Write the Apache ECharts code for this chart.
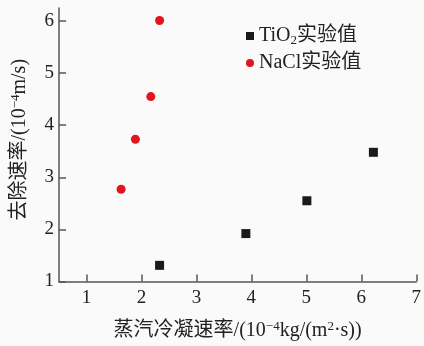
<!DOCTYPE html>
<html><head><meta charset="utf-8">
<script src="https://cdn.jsdelivr.net/npm/echarts@6/dist/echarts.min.js"></script>
<style>html,body{margin:0;padding:0;background:#fafafa;}#c{width:424px;height:346px;}</style>
</head><body><div id="c"></div>
<script>
var xTicks = [1, 2, 3, 4, 5, 6, 7];
var yTicks = [1, 2, 3, 4, 5, 6];
var tio2X = [2.33, 3.9, 5.01, 6.22];
var tio2Y = [1.31, 1.92, 2.55, 3.48];
var naclX = [1.63, 1.89, 2.17, 2.33];
var naclY = [2.77, 3.73, 4.55, 6.01];
var tio2Name = 'TiO2实验值';
var naclName = 'NaCl实验值';

var FF = "'Liberation Serif','Noto Sans CJK SC',serif";
var FS = 19;
var NS = 20;
function zip(a, b) { return a.map(function (v, i) { return [v, b[i]]; }); }
var supRich = {
  t: { fontFamily: FF, fontSize: NS, color: '#222' },
  u: { fontFamily: FF, fontSize: 13, color: '#222', verticalAlign: 'top', padding: [0, 0, 8, 0] }
};

var chart = echarts.init(document.getElementById('c'));
chart.setOption({
  backgroundColor: '#fafafa',
  animation: false,
  grid: { left: 59, right: 4, top: 8, bottom: 64 },
  legend: {
    top: 21, left: 241, orient: 'vertical', itemGap: 6,
    itemWidth: 8, itemHeight: 8,
    data: [{ name: tio2Name, icon: 'rect', itemStyle: { color: '#1a1a1a' } },
           { name: naclName, icon: 'circle', itemStyle: { color: '#e3141e' } }],
    formatter: function (n) {
      if (n === tio2Name) return '{t|TiO}{s|2}{t|实验值}';
      return '{t|' + n + '}';
    },
    textStyle: {
      fontFamily: FF, fontSize: NS, color: '#222',
      rich: {
        t: { fontFamily: FF, fontSize: NS, color: '#222' },
        s: { fontFamily: FF, fontSize: 13, color: '#222', verticalAlign: 'bottom', padding: [9, 0, 0, 0] }
      }
    }
  },
  xAxis: {
    type: 'value', min: 0.5, max: 7,
    splitLine: { show: false },
    axisLine: { lineStyle: { color: '#555', width: 1.5 } },
    axisTick: { inside: true, length: 7, customValues: xTicks, lineStyle: { color: '#555', width: 1.5 } },
    axisLabel: { customValues: xTicks, margin: 7, fontFamily: FF, fontSize: FS, color: '#222' },
    name: '{t|蒸汽冷凝速率/(10}{u|−4}{t|kg/(m}{u|2}{t|·s))}',
    nameLocation: 'middle', nameGap: 39,
    nameTextStyle: { fontFamily: FF, fontSize: NS, color: '#222', rich: supRich }
  },
  yAxis: {
    type: 'value', min: 1, max: 6.25,
    splitLine: { show: false },
    axisLine: { lineStyle: { color: '#555', width: 1.5 } },
    axisTick: { inside: true, length: 7, customValues: yTicks, lineStyle: { color: '#555', width: 1.5 } },
    axisLabel: { customValues: yTicks, margin: 5, fontFamily: FF, fontSize: FS, color: '#222' },
    name: '{t|去除速率/(10}{u|−4}{t|m/s)}',
    nameLocation: 'middle', nameGap: 29, nameRotate: 90,
    nameTextStyle: { fontFamily: FF, fontSize: NS, color: '#222', padding: [0, 0, 0, 10], rich: supRich }
  },
  series: [
    { name: tio2Name, type: 'scatter', symbol: 'rect', symbolSize: 9,
      itemStyle: { color: '#1a1a1a', opacity: 1 }, data: zip(tio2X, tio2Y) },
    { name: naclName, type: 'scatter', symbol: 'circle', symbolSize: 9,
      itemStyle: { color: '#e3141e', opacity: 1 }, data: zip(naclX, naclY) }
  ]
});
</script></body></html>
